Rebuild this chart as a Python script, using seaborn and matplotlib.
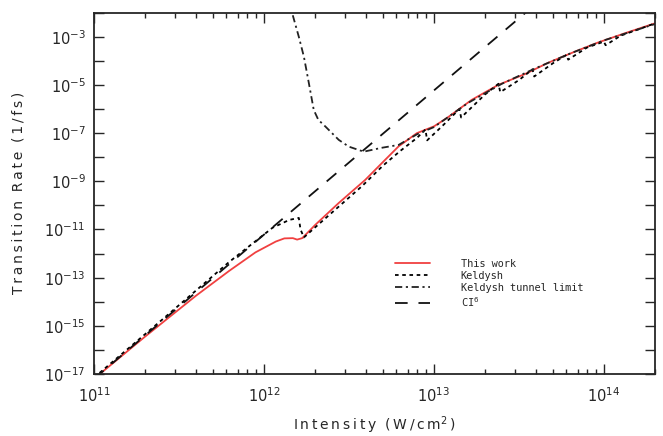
import numpy as np
import pandas as pd
import matplotlib
matplotlib.use("Agg")
import matplotlib.pyplot as plt
import seaborn as sns
from matplotlib.ticker import FixedLocator, LogFormatterMathtext, NullFormatter, LogLocator

# -----------------------------
# Data (log10 values)
# -----------------------------
red_logI = [11.0, 11.3, 11.6, 11.795, 11.95, 12.07, 12.12, 12.17, 12.195, 12.225,
            12.303, 12.44, 12.596, 12.7, 12.792, 12.9, 13.0, 13.075, 13.222, 13.378,
            13.535, 13.672, 13.828, 13.965, 14.121, 14.31]
red_logR = [-17.2, -15.45, -13.75, -12.72, -11.95, -11.5, -11.37, -11.36, -11.42, -11.36,
            -10.8, -9.9, -8.94, -8.2, -7.55, -7.0, -6.72, -6.38, -5.62, -5.0,
            -4.55, -4.08, -3.62, -3.24, -2.86, -2.42]

keld_logI = [11.0, 11.4, 11.795, 12.05, 12.15, 12.205, 12.215, 12.235, 12.303, 12.44,
             12.577, 12.7, 12.8, 12.9, 12.95, 12.96, 13.05, 13.15, 13.16, 13.3,
             13.38, 13.39, 13.5, 13.58, 13.59, 13.7, 13.78, 13.79, 13.9, 14.0,
             14.01, 14.1, 14.2, 14.31]
keld_logR = [-17.15, -14.75, -12.35, -10.93, -10.6, -10.52, -11.0, -11.33, -10.9, -10.05,
             -9.2, -8.35, -7.75, -7.2, -6.85, -7.3, -6.7, -6.0, -6.35, -5.4,
             -4.95, -5.3, -4.8, -4.35, -4.65, -4.1, -3.75, -3.95, -3.45, -3.2,
             -3.35, -2.95, -2.7, -2.42]

tunnel_logI = [12.12, 12.166, 12.205, 12.235, 12.264, 12.293, 12.32, 12.362, 12.44, 12.499,
               12.587, 12.692, 12.792, 12.9, 13.0, 13.2, 13.4, 13.6, 13.8, 14.0, 14.31]
tunnel_logR = [-0.3, -2.02, -3.0, -3.83, -4.92, -6.04, -6.45, -6.73, -7.28, -7.56,
               -7.77, -7.61, -7.49, -7.05, -6.75, -5.75, -4.95, -4.3, -3.7, -3.15, -2.45]

ci6_logI = [11.0, 13.556]
ci6_logR = [-17.2, -1.9]

legend_labels = ["This work", "Keldysh", "Keldysh tunnel limit", r"CI$^6$"]


def spaced(s):
    # letter-spaced label text, like the original figure
    return "\u2009".join(s)


# -----------------------------
# Plot
# -----------------------------
sns.set_style("ticks")
plt.rcParams['font.family'] = ['DejaVu Sans']
plt.rcParams['mathtext.fontset'] = 'dejavusans'

fig = plt.figure(figsize=(6.63, 4.36), dpi=100)
ax = fig.add_axes([0.1418, 0.1422, 0.8462, 0.8287])

series = [
    (red_logI, red_logR, "#f04040", "-", legend_labels[0]),
    (keld_logI, keld_logR, "black", (0, (2.0, 2.0)), legend_labels[1]),
    (tunnel_logI, tunnel_logR, "#222222", (0, (4.0, 2.0, 1.2, 2.0)), legend_labels[2]),
    (ci6_logI, ci6_logR, "#111111", (0, (7.0, 6.0)), legend_labels[3]),
]
for lx, ly, col, ls, lab in series:
    df = pd.DataFrame({'I': 10.0 ** np.array(lx), 'R': 10.0 ** np.array(ly)})
    sns.lineplot(data=df, x='I', y='R', ax=ax, color=col, linestyle=ls,
                 linewidth=1.3, label=lab, sort=False)

ax.set_xscale('log')
ax.set_yscale('log')
ax.set_xlim(1e11, 2e14)
ax.set_ylim(1e-17, 1e-2)

ax.yaxis.set_major_locator(FixedLocator(10.0 ** np.arange(-17, -2, 2)))
ax.yaxis.set_minor_locator(FixedLocator(10.0 ** np.arange(-16, -1, 2)))
ax.yaxis.set_major_formatter(LogFormatterMathtext())
ax.yaxis.set_minor_formatter(NullFormatter())
ax.xaxis.set_major_locator(FixedLocator(10.0 ** np.arange(11, 15)))
ax.xaxis.set_minor_locator(LogLocator(base=10, subs=np.arange(2, 10), numticks=20))
ax.xaxis.set_major_formatter(LogFormatterMathtext())
ax.xaxis.set_minor_formatter(NullFormatter())

ax.tick_params(which='both', direction='in', top=True, right=True, width=1.0)
ax.tick_params(axis='x', which='major', length=7, labelsize=10.5, pad=9)
ax.tick_params(axis='x', which='minor', length=3.5)
ax.tick_params(axis='y', which='both', length=7, labelsize=10.5, pad=6)
for s in ax.spines.values():
    s.set_linewidth(1.3)

ax.set_ylabel(spaced("Transition") + "  " + spaced("Rate") + "  " + spaced("(1/fs)"),
              fontsize=10)
ax.yaxis.set_label_coords(-0.123, 0.5)
ax.set_xlabel(spaced("Intensity") + "  " + spaced("(W/cm") + r"$^2$" + "\u2009)",
              fontsize=10)
ax.xaxis.set_label_coords(0.5, -0.112)

ax.legend(loc='upper left', bbox_to_anchor=(0.52, 0.345), frameon=False,
          prop={'family': 'DejaVu Sans Mono', 'size': 7.4}, handlelength=3.4,
          handletextpad=3.0, labelspacing=0.2)

plt.savefig("out.png", dpi=100)
